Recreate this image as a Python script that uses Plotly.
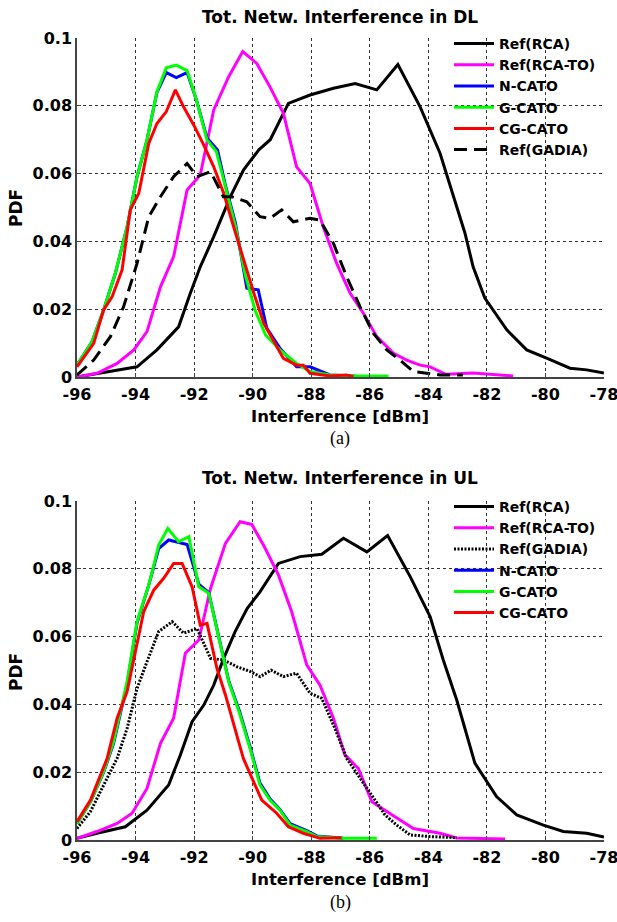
import plotly.graph_objects as go

# ---------------- DATA: (a) downlink ----------------
RCA_DL_x = [-96, -94.86, -93.95, -93.27, -92.53, -92.13, -91.79, -91.33, -90.76, -90.31, -89.79, -89.4,
            -88.78, -88.04, -87.24, -86.5, -85.76, -85.04, -84.28, -83.6, -83.09, -82.75, -82.47, -82.07,
            -81.32, -80.64, -79.96, -79.16, -78.59, -78]
RCA_DL_y = [0, 0.0016, 0.003, 0.008, 0.0148, 0.0247, 0.0325, 0.0414, 0.0532, 0.0611, 0.067, 0.070,
            0.0807, 0.0832, 0.0852, 0.0866, 0.0847, 0.0922, 0.0797, 0.066, 0.0522, 0.0425, 0.0325, 0.0233,
            0.0139, 0.008, 0.0056, 0.0026, 0.0021, 0.0012]

RCATO_DL_x = [-96, -95.32, -94.63, -94.06, -93.61, -93.15, -92.7, -92.24, -91.79, -91.33, -90.82, -90.34,
              -89.86, -89.41, -88.95, -88.5, -88.04, -87.59, -87.13, -86.67, -86.22, -85.76, -85.19, -84.74,
              -84.28, -83.94, -83.4, -82.48, -81.1]
RCATO_DL_y = [0, 0.0011, 0.004, 0.008, 0.0134, 0.0266, 0.0355, 0.0552, 0.0596, 0.0788, 0.0886, 0.096,
              0.0925, 0.0856, 0.0778, 0.062, 0.0571, 0.0443, 0.0335, 0.0247, 0.0188, 0.0119, 0.007, 0.005,
              0.0035, 0.003, 0.0008, 0.0012, 0.0003]

NCATO_DL_x = [-96, -95.49, -95.09, -94.69, -94.29, -93.95, -93.61, -93.27, -92.95, -92.61, -92.24, -91.92,
              -91.56, -91.2, -90.93, -90.59, -90.2, -89.81, -89.52, -89.07, -88.5, -88.04, -87.36, -86.5]
NCATO_DL_y = [0.0035, 0.0104, 0.0198, 0.0306, 0.0443, 0.0591, 0.0699, 0.084, 0.0898, 0.0883, 0.0898, 0.0817,
              0.0705, 0.067, 0.0565, 0.0455, 0.0262, 0.0257, 0.0144, 0.0085, 0.003, 0.003, 0.0006, 0.0003]

GCATO_DL_x = [-96, -95.49, -95.09, -94.69, -94.29, -93.95, -93.61, -93.27, -92.95, -92.61, -92.24, -91.92,
              -91.56, -91.24, -90.93, -90.59, -90.25, -89.91, -89.56, -89.07, -88.5, -88.04, -87.36, -86.45, -85.36]
GCATO_DL_y = [0.0035, 0.0104, 0.0198, 0.0306, 0.0443, 0.0591, 0.0699, 0.0842, 0.0912, 0.092, 0.0904, 0.0817,
              0.0699, 0.0665, 0.0561, 0.0445, 0.030, 0.0195, 0.0124, 0.008, 0.004, 0.0016, 0.0006, 0.0003, 0.0003]

CGCATO_DL_x = [-96, -95.43, -95.09, -94.8, -94.46, -94.18, -93.89, -93.55, -93.27, -92.95, -92.64, -92.36,
               -92.01, -91.67, -91.33, -90.99, -90.65, -90.31, -89.96, -89.62, -89.22, -88.95, -88.5, -88.27,
               -88.04, -87.36, -86.8, -86.56]
CGCATO_DL_y = [0.003, 0.0099, 0.0198, 0.0237, 0.0316, 0.0493, 0.0542, 0.0689, 0.0748, 0.0783, 0.0847, 0.0797,
               0.0743, 0.0684, 0.062, 0.0542, 0.0443, 0.0345, 0.0247, 0.0158, 0.0099, 0.0055, 0.0035, 0.0035,
               0.0011, 0.0003, 0.0006, 0.0001]

GADIA_DL_x = [-96, -95.43, -94.86, -94.41, -93.95, -93.55, -93.15, -92.7, -92.24, -91.9, -91.44, -91.0,
              -90.72, -90.2, -89.75, -89.41, -89.01, -88.61, -88.04, -87.7, -87.24, -86.79, -86.33, -85.88,
              -85.42, -84.97, -84.51, -84.05, -83.6, -82.82]
GADIA_DL_y = [0.0006, 0.005, 0.0119, 0.0207, 0.0335, 0.0473, 0.0532, 0.0591, 0.063, 0.0591, 0.0606, 0.0532,
              0.0532, 0.0517, 0.0473, 0.0468, 0.0493, 0.0458, 0.0468, 0.0463, 0.0394, 0.0296, 0.0207, 0.0129,
              0.008, 0.005, 0.0016, 0.0011, 0.0006, 0.0006]

# ---------------- DATA: (b) uplink ----------------
RCA_UL_x = [-96, -95.32, -94.35, -93.61, -92.87, -92.47, -92.07, -91.67, -91.33, -90.99, -90.6, -90.19,
            -89.75, -89.12, -88.38, -87.64, -86.9, -86.1, -85.39, -84.62, -83.94, -83.49, -83.03, -82.69,
            -82.41, -81.67, -80.98, -80.07, -79.39, -78.59, -78]
RCA_UL_y = [0.0005, 0.002, 0.0039, 0.0088, 0.0162, 0.0251, 0.0349, 0.0398, 0.0457, 0.0536, 0.0615, 0.0683,
            0.0732, 0.0816, 0.0836, 0.0843, 0.089, 0.085, 0.0898, 0.0777, 0.0659, 0.0531, 0.0413, 0.0315,
            0.0227, 0.0128, 0.0074, 0.0044, 0.0025, 0.002, 0.0009]

RCATO_UL_x = [-96, -95.32, -94.63, -94.12, -93.61, -93.15, -92.7, -92.3, -91.84, -91.44, -90.93, -90.43,
              -90.03, -89.6, -89.12, -88.67, -88.15, -87.7, -87.24, -86.85, -86.39, -85.93, -85.42, -84.97,
              -84.51, -83.6, -83.03, -81.38]
RCATO_UL_y = [0.0005, 0.0025, 0.0049, 0.0079, 0.0152, 0.0285, 0.0359, 0.0551, 0.059, 0.0742, 0.0875, 0.0939,
              0.0931, 0.0865, 0.0782, 0.0674, 0.0516, 0.0457, 0.0359, 0.0251, 0.0211, 0.0113, 0.0084, 0.0059,
              0.0034, 0.002, 0.0006, 0.0003]

GADIA_UL_x = [-96, -95.54, -95.09, -94.63, -94.29, -93.95, -93.61, -93.21, -92.75, -92.36, -91.9, -91.44,
              -90.99, -90.53, -90.08, -89.75, -89.37, -88.95, -88.5, -88.04, -87.64, -87.19, -86.79, -86.33,
              -85.93, -85.48, -85.08, -84.62, -83.94, -83.03]
GADIA_UL_y = [0.0034, 0.0084, 0.0162, 0.0241, 0.0329, 0.0447, 0.0526, 0.0615, 0.0644, 0.061, 0.0624, 0.0536,
              0.0531, 0.0511, 0.0497, 0.0482, 0.0501, 0.0482, 0.0492, 0.0433, 0.0418, 0.0329, 0.0241, 0.0182,
              0.0128, 0.0074, 0.0044, 0.0015, 0.001, 0.0007]

NCATO_UL_x = [-96, -95.54, -95.09, -94.75, -94.29, -93.95, -93.55, -93.21, -92.87, -92.53, -92.24, -91.84,
              -91.5, -91.16, -90.82, -90.45, -90.09, -89.75, -89.41, -89.07, -88.72, -88.15, -87.81, -86.9]
NCATO_UL_y = [0.0049, 0.0113, 0.02, 0.0285, 0.046, 0.064, 0.0752, 0.086, 0.0885, 0.0877, 0.0872, 0.0755,
              0.073, 0.06, 0.047, 0.038, 0.0275, 0.0168, 0.0122, 0.009, 0.0048, 0.0028, 0.0012, 0.0005]

GCATO_UL_x = [-96, -95.54, -95.09, -94.75, -94.29, -93.95, -93.55, -93.21, -92.9, -92.53, -92.18, -91.84,
              -91.5, -91.16, -90.82, -90.45, -90.09, -89.75, -89.41, -89.07, -88.72, -88.15, -87.81, -87.02, -85.76]
GCATO_UL_y = [0.0049, 0.0113, 0.0202, 0.029, 0.0467, 0.0644, 0.0752, 0.087, 0.0919, 0.088, 0.0895, 0.0747,
              0.0728, 0.0595, 0.0467, 0.0374, 0.027, 0.0162, 0.0118, 0.0088, 0.0044, 0.0025, 0.001, 0.0005, 0.0005]

CGCATO_UL_x = [-96, -95.54, -94.97, -94.63, -94.29, -94.01, -93.72, -93.38, -93.04, -92.7, -92.41, -92.07,
               -91.79, -91.56, -91.22, -90.93, -90.65, -90.32, -90.02, -89.69, -89.18, -88.78, -88.27, -87.7, -86.96]
CGCATO_UL_y = [0.0054, 0.0118, 0.0241, 0.0359, 0.0438, 0.0556, 0.0674, 0.0737, 0.0772, 0.0816, 0.0816, 0.0747,
               0.0634, 0.0639, 0.0506, 0.0428, 0.0339, 0.0241, 0.0182, 0.0118, 0.0079, 0.0039, 0.002, 0.0005, 0.0007]

X_TICKS = [-96, -94, -92, -90, -88, -86, -84, -82, -80, -78]
Y_TICKS = [0, 0.02, 0.04, 0.06, 0.08, 0.1]
Y_TICK_TEXT = ["0", "0.02", "0.04", "0.06", "0.08", "0.1"]

TITLE_DL = "Tot. Netw. Interference in DL"
TITLE_UL = "Tot. Netw. Interference in UL"
X_TITLE = "Interference [dBm]"
Y_TITLE = "PDF"

# ---------------- FIGURE ----------------
W, H = 617, 922
FONT = "DejaVu Sans, Liberation Sans, Arial, sans-serif"
SERIF = "Liberation Serif, Times New Roman, serif"
BLACK, MAG, BLUE, GREEN, RED = "#000000", "#ff00ff", "#0000ff", "#00ff00", "#ff0000"


def px_x(p):
    return p / W


def px_y(p):
    return 1 - p / H


fig = go.Figure()


def add(x, y, name, color, xa, ya, leg, dash="solid"):
    fig.add_trace(go.Scatter(x=x, y=y, mode="lines", name="<b>" + name + "</b>",
                             line=dict(color=color, width=3, dash=dash),
                             xaxis=xa, yaxis=ya, legend=leg, hoverinfo="skip"))


add(RCA_DL_x, RCA_DL_y, "Ref(RCA)", BLACK, "x", "y", "legend")
add(RCATO_DL_x, RCATO_DL_y, "Ref(RCA-TO)", MAG, "x", "y", "legend")
add(NCATO_DL_x, NCATO_DL_y, "N-CATO", BLUE, "x", "y", "legend")
add(GCATO_DL_x, GCATO_DL_y, "G-CATO", GREEN, "x", "y", "legend")
add(CGCATO_DL_x, CGCATO_DL_y, "CG-CATO", RED, "x", "y", "legend")
add(GADIA_DL_x, GADIA_DL_y, "Ref(GADIA)", BLACK, "x", "y", "legend", dash="13px,7px")

add(RCA_UL_x, RCA_UL_y, "Ref(RCA)", BLACK, "x2", "y2", "legend2")
add(RCATO_UL_x, RCATO_UL_y, "Ref(RCA-TO)", MAG, "x2", "y2", "legend2")
add(GADIA_UL_x, GADIA_UL_y, "Ref(GADIA)", BLACK, "x2", "y2", "legend2", dash="2px,1.5px")
add(NCATO_UL_x, NCATO_UL_y, "N-CATO", BLUE, "x2", "y2", "legend2")
add(GCATO_UL_x, GCATO_UL_y, "G-CATO", GREEN, "x2", "y2", "legend2")
add(CGCATO_UL_x, CGCATO_UL_y, "CG-CATO", RED, "x2", "y2", "legend2")

XD = [px_x(77), px_x(604)]
TOP_YD = [px_y(377), px_y(38)]
BOT_YD = [px_y(840), px_y(501)]

tickfont = dict(family=FONT, size=16, color="black")
GRID = dict(showgrid=True, gridcolor="#333333", griddash="dot", gridwidth=1,
            showline=True, linecolor="#444444", linewidth=1.5, mirror=False,
            ticks="inside", ticklen=4, tickcolor="#444444", zeroline=False, fixedrange=True,
            automargin=False, ticklabeloverflow="allow")


def xaxis(anchor):
    return dict(domain=XD, anchor=anchor, range=[-96.0005, -77.9995], tickvals=X_TICKS,
                ticktext=["<b>%d</b>" % v for v in X_TICKS], tickfont=tickfont,
                ticklabelstandoff=2, **GRID)


def yaxis(anchor, dom):
    return dict(domain=dom, anchor=anchor, range=[0, 0.10001], tickvals=Y_TICKS,
                ticktext=["<b>%s</b>" % t for t in Y_TICK_TEXT], tickfont=tickfont, **GRID)


legfont = dict(family=FONT, size=14, color="black")


def legend(ytop):
    return dict(x=px_x(449), y=px_y(ytop), xanchor="left", yanchor="top",
                bgcolor="rgba(0,0,0,0)", borderwidth=0, font=legfont, itemwidth=40,
                tracegroupgap=0, traceorder="normal")


ann = []


def text(s, x, y, size=17, family=FONT, angle=0):
    ann.append(dict(text=s, x=px_x(x), y=px_y(y), xref="paper", yref="paper",
                    showarrow=False, xanchor="center", yanchor="middle", textangle=angle,
                    font=dict(family=family, size=size, color="black")))


text("<b>" + TITLE_DL + "</b>", 340, 17)
text("<b>" + X_TITLE + "</b>", 340, 416, size=16.5)
text("<b>" + Y_TITLE + "</b>", 16, 208, angle=-90)
text("(a)", 340, 438, size=18, family=SERIF)
text("<b>" + TITLE_UL + "</b>", 340, 478)
text("<b>" + X_TITLE + "</b>", 340, 879, size=16.5)
text("<b>" + Y_TITLE + "</b>", 16, 672, angle=-90)
text("(b)", 340, 902, size=18, family=SERIF)

# white backdrop behind each legend (covers the grid, not the data)
shapes = []
for top, bot in ((38, 170), (501, 633)):
    shapes.append(dict(type="rect", xref="paper", yref="paper", layer="between",
                       x0=px_x(447), x1=px_x(603), y0=px_y(bot), y1=px_y(top + 1),
                       fillcolor="white", line=dict(width=0)))

fig.update_layout(
    width=W, height=H, margin=dict(l=0, r=0, t=0, b=0, autoexpand=False),
    paper_bgcolor="white", plot_bgcolor="white",
    xaxis=xaxis("y"), yaxis=yaxis("x", TOP_YD),
    xaxis2=xaxis("y2"), yaxis2=yaxis("x2", BOT_YD),
    legend=legend(28), legend2=legend(491),
    annotations=ann, shapes=shapes, showlegend=True,
)

fig.write_html("out.html")
